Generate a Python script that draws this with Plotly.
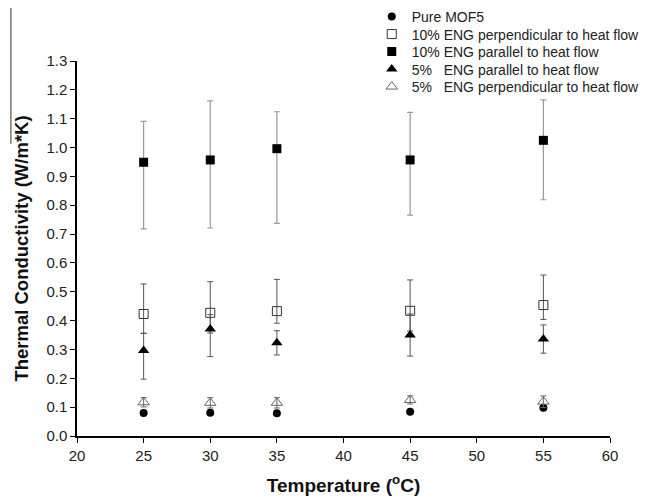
import plotly.graph_objects as go

temperature = [25, 30, 35, 45, 55]

pure_mof5 = [0.080, 0.081, 0.079, 0.084, 0.098]

eng10_perp = [0.423, 0.427, 0.433, 0.434, 0.454]
eng10_perp_plus = [0.104, 0.108, 0.110, 0.107, 0.104]
eng10_perp_minus = [0.067, 0.070, 0.042, 0.070, 0.050]

eng10_par = [0.949, 0.957, 0.996, 0.957, 1.025]
eng10_par_plus = [0.142, 0.205, 0.128, 0.165, 0.140]
eng10_par_minus = [0.231, 0.236, 0.259, 0.191, 0.206]

eng5_par = [0.296, 0.371, 0.323, 0.350, 0.336]
eng5_par_plus = [0.060, 0.050, 0.042, 0.073, 0.049]
eng5_par_minus = [0.099, 0.096, 0.042, 0.073, 0.049]

eng5_perp = [0.117, 0.115, 0.115, 0.125, 0.119]
eng5_perp_err = [0.016, 0.018, 0.018, 0.014, 0.020]

names = [
    "Pure MOF5",
    "10% ENG perpendicular to heat flow",
    "10% ENG parallel to heat flow",
    "5%\u00a0\u00a0\u00a0ENG parallel to heat flow",
    "5%\u00a0\u00a0\u00a0ENG perpendicular to heat flow",
]

FONT = "Arial, Liberation Sans, sans-serif"
LEGEND_FONT = dict(family=FONT, size=14, color="#222222")

fig = go.Figure()

fig.add_trace(go.Scatter(
    x=temperature, y=pure_mof5, mode="markers", name=names[0], legend="legend",
    marker=dict(symbol="circle", size=8, color="black"),
))
fig.add_trace(go.Scatter(
    x=temperature, y=eng10_perp, mode="markers", name=names[1], legend="legend2",
    marker=dict(symbol="square-open", size=9, color="#333333", line=dict(width=1)),
    error_y=dict(type="data", symmetric=False, array=eng10_perp_plus,
                 arrayminus=eng10_perp_minus, color="#555555", thickness=1, width=3),
))
fig.add_trace(go.Scatter(
    x=temperature, y=eng10_par, mode="markers", name=names[2], legend="legend3",
    marker=dict(symbol="square", size=9, color="black"),
    error_y=dict(type="data", symmetric=False, array=eng10_par_plus,
                 arrayminus=eng10_par_minus, color="#999999", thickness=1.2, width=3),
))
fig.add_trace(go.Scatter(
    x=temperature, y=eng5_par, mode="markers", name=names[3], legend="legend4",
    marker=dict(symbol="triangle-up", size=10, color="black"),
    error_y=dict(type="data", symmetric=False, array=eng5_par_plus,
                 arrayminus=eng5_par_minus, color="#555555", thickness=1, width=3),
))
fig.add_trace(go.Scatter(
    x=temperature, y=eng5_perp, mode="markers", name=names[4], legend="legend5",
    marker=dict(symbol="triangle-up-open", size=10, color="#666666", line=dict(width=1)),
    error_y=dict(type="data", array=eng5_perp_err, color="#666666", thickness=1, width=3),
))


def legend_row(y):
    return dict(x=0.553, y=y, xanchor="left", yanchor="middle",
                bgcolor="rgba(0,0,0,0)", font=LEGEND_FONT, itemsizing="trace")


# page body adds an 8px offset; the figure is sized to fill the rest of the window
fig.update_layout(
    width=643, height=494,
    margin=dict(l=69, r=41, t=53, b=66, autoexpand=False),
    paper_bgcolor="white", plot_bgcolor="white",
    font=dict(family=FONT, size=13, color="#222222"),
    showlegend=True,
    legend=legend_row(1.1173),
    legend2=legend_row(1.0707),
    legend3=legend_row(1.0240),
    legend4=legend_row(0.9773),
    legend5=legend_row(0.9307),
    shapes=[dict(type="line", xref="paper", yref="paper",
                 x0=-0.124, x1=-0.124, y0=0.779, y1=1.15,
                 line=dict(color="#333333", width=1))],
)

fig.update_xaxes(
    range=[20, 60], tickvals=[20, 25, 30, 35, 40, 45, 50, 55, 60],
    showline=True, linecolor="black", linewidth=1.5, mirror=False, automargin=False,
    ticks="outside", ticklen=5, tickcolor="black", showgrid=False, zeroline=False,
    tickfont=dict(size=15, color="#222222"),
    title=dict(text="<b>Temperature (<sup>o</sup>C)</b>", font=dict(size=19, color="#111111"), standoff=16),
)
fig.update_yaxes(
    range=[0, 1.3], tickvals=[i / 10 for i in range(14)], tickformat=".1f",
    showline=True, linecolor="black", linewidth=1.5, mirror=False, automargin=False,
    ticks="outside", ticklen=5, tickcolor="black", showgrid=False, zeroline=False,
    tickfont=dict(size=15, color="#222222"),
    title=dict(text="<b>Thermal Conductivity (W/m*K)</b>", font=dict(size=18.5, color="#111111"), standoff=13),
)

fig.write_html("out.html")
